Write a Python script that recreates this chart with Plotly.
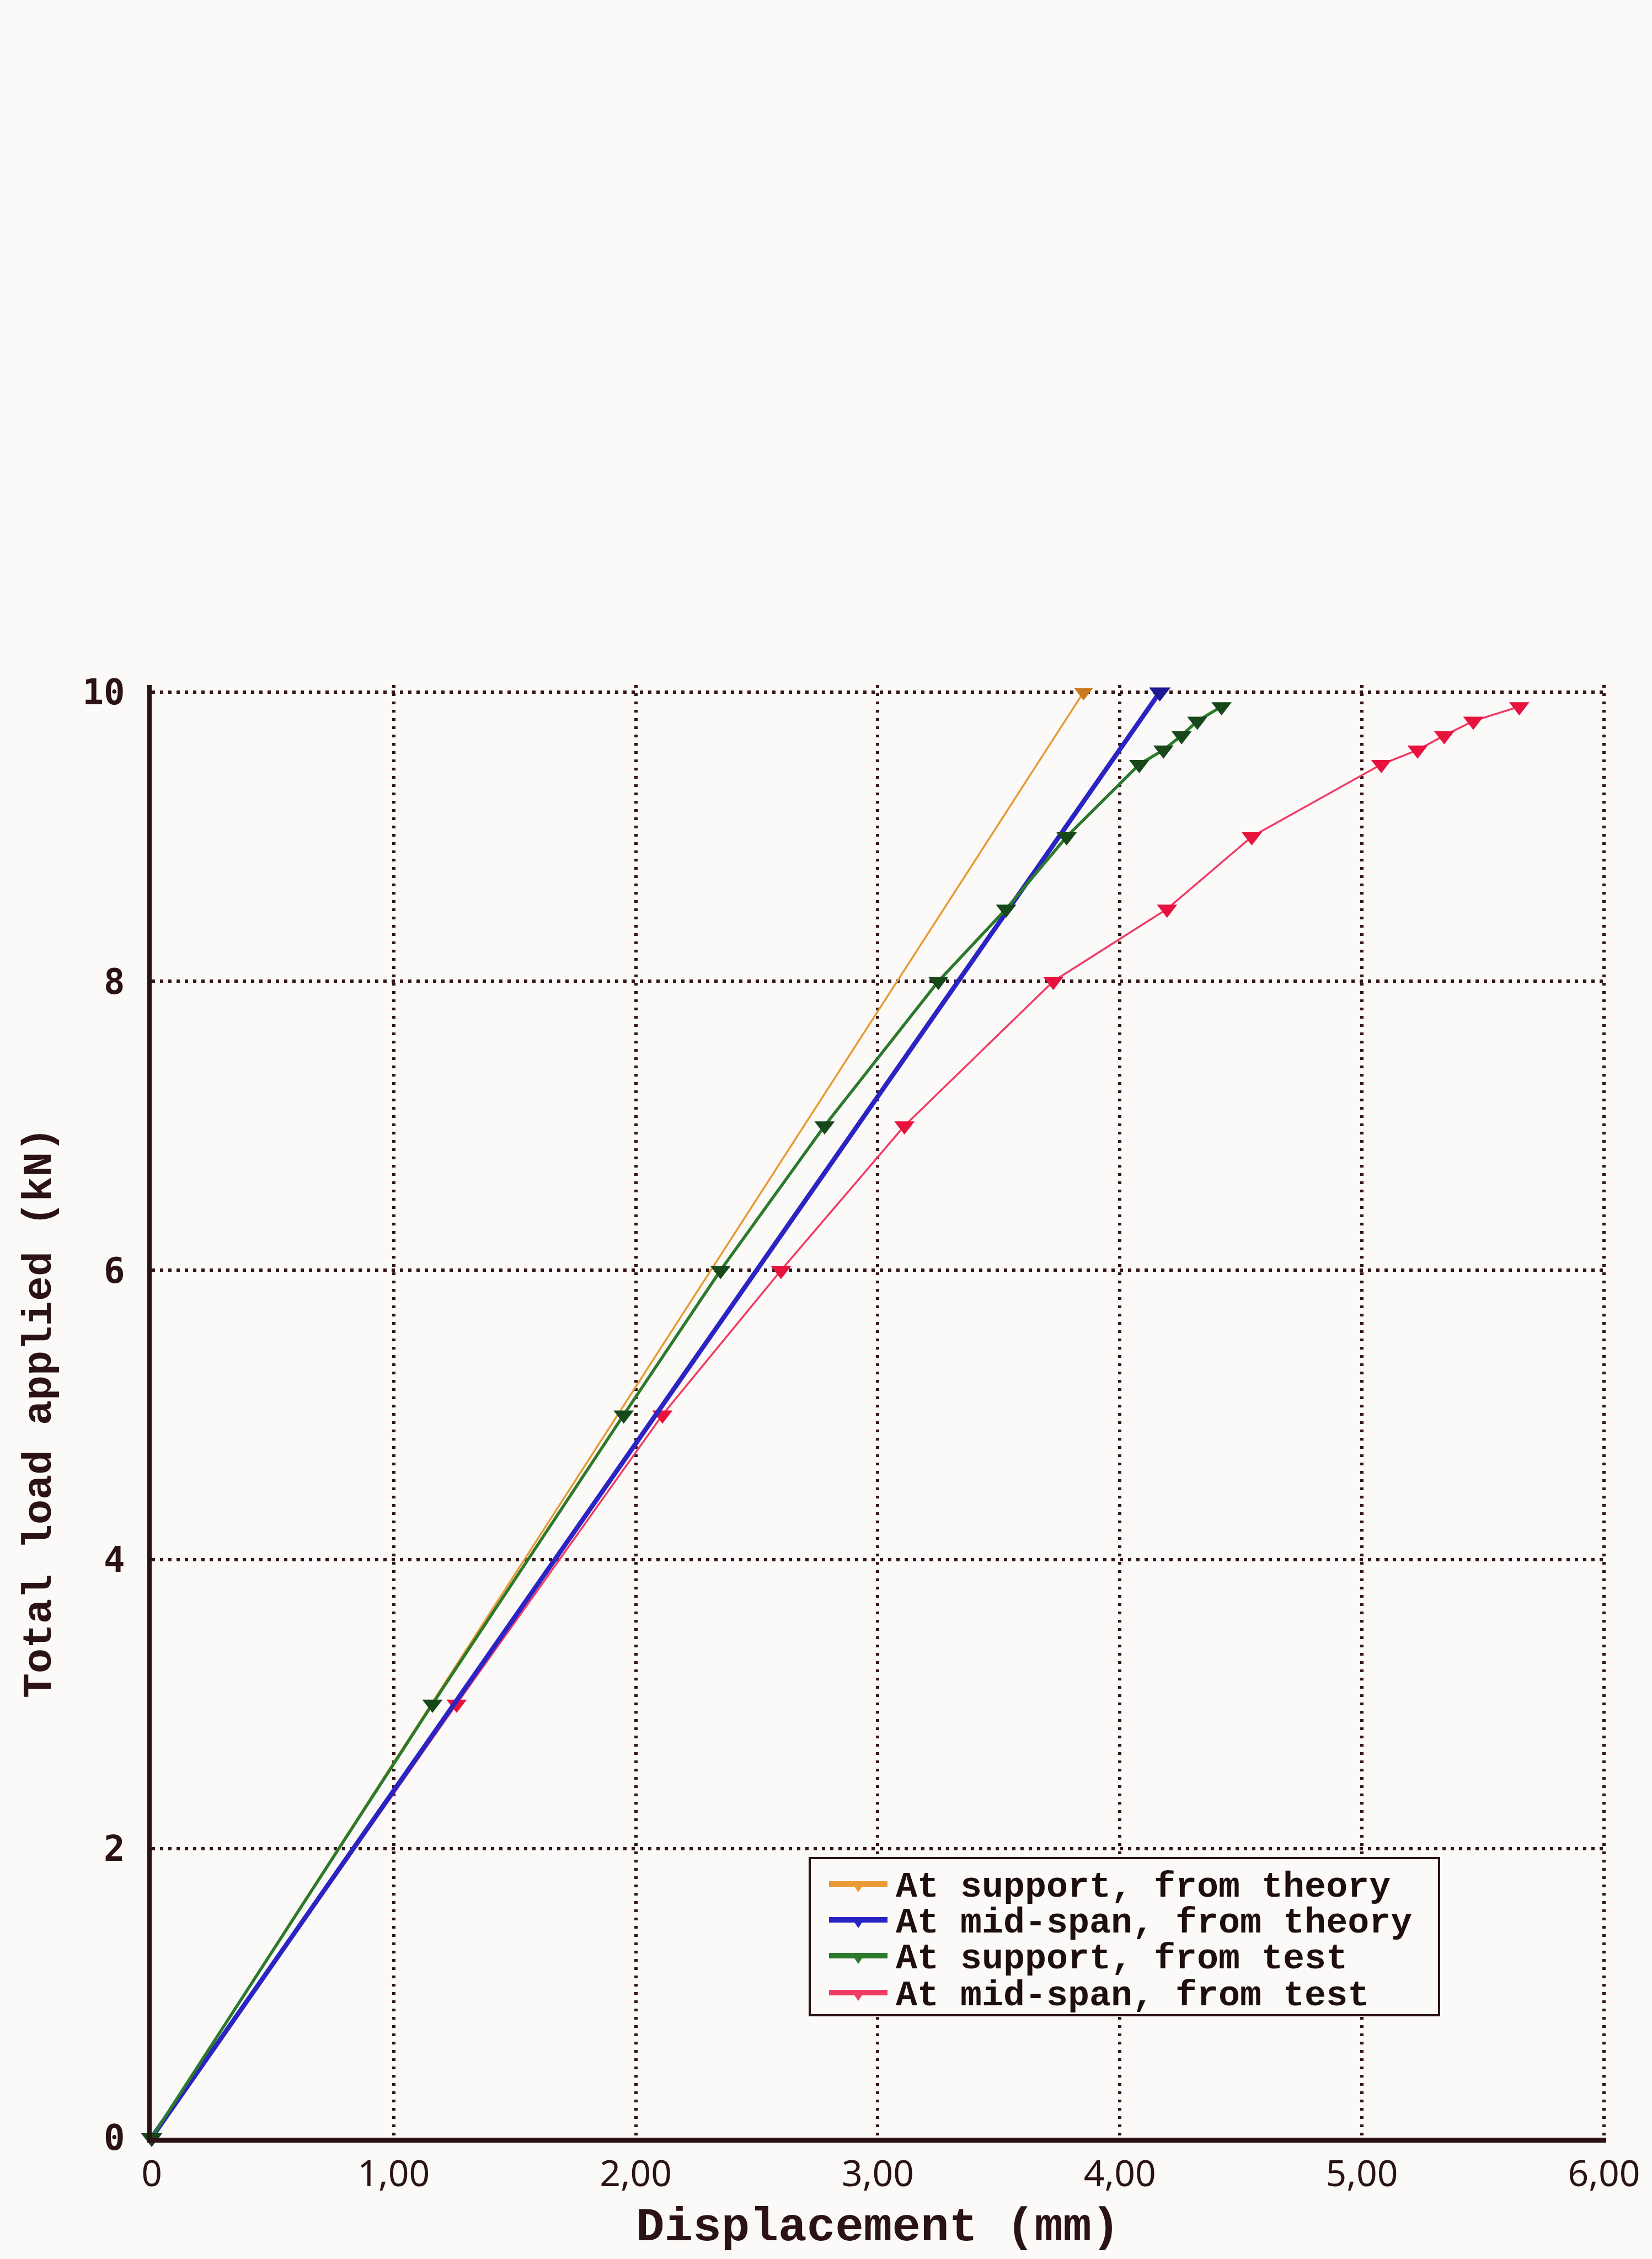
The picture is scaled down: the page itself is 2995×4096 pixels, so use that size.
import plotly.graph_objects as go

W, H = 2995, 4096

# ---------------- data ----------------
support_theory_x = [0, 385]
support_theory_y = [0, 10]

midspan_theory_x = [0, 416.5]
midspan_theory_y = [0, 10]

support_test_x = [0, 116, 195, 235, 278, 325, 353, 378, 408, 418, 425.5, 432, 442]
support_test_y = [0, 3, 5, 6, 7, 8, 8.5, 9, 9.5, 9.6, 9.7, 9.8, 9.9]

midspan_test_x = [0, 126, 211, 260, 311, 372.5, 419.5, 454.5, 508, 523, 534, 546, 565]
midspan_test_y = [0, 3, 5, 6, 7, 8, 8.5, 9, 9.5, 9.6, 9.7, 9.8, 9.9]

series_names = [
    "At support, from theory",
    "At mid-span, from theory",
    "At support, from test",
    "At mid-span, from test",
]

x_tickvals = [0, 100, 200, 300, 400, 500, 600]
x_ticktext = ["0", "1,00", "2,00", "3,00", "4,00", "5,00", "6,00"]
y_tickvals = [0, 2, 4, 6, 8, 10]
y_ticktext = ["0", "2", "4", "6", "8", "10"]

x_title = "Displacement (mm)"
y_title = "Total load applied (kN)"

# ---------------- styling ----------------
INK = "#2a1215"
GRID = "#35171a"
PAPER = "#fcfaf8"

line_colors = ["#e99a35", "#2b24c4", "#2c7a2c", "#f03c64"]
marker_colors = ["#c8781f", "#1d1890", "#16481a", "#e8123e"]
line_widths = [3.5, 8.5, 5.5, 3.5]
marker_sizes = [30, 34, 32, 32]


def fx(px):
    return px / W


def fy(py):
    return 1 - py / H


fig = go.Figure()

series = [
    (support_theory_x, support_theory_y),
    (midspan_theory_x, midspan_theory_y),
    (support_test_x, support_test_y),
    (midspan_test_x, midspan_test_y),
]

# draw order: red, orange, blue, green (green and blue sit on top)
for i in [3, 0, 1, 2]:
    xs, ys = series[i]
    fig.add_trace(
        go.Scatter(
            x=xs,
            y=ys,
            name=series_names[i],
            mode="lines+markers",
            line=dict(color=line_colors[i], width=line_widths[i]),
            marker=dict(symbol="triangle-down", size=marker_sizes[i],
                        color=marker_colors[i], line=dict(width=0)),
            cliponaxis=False,
        )
    )

# ---------------- axes ----------------
fig.update_xaxes(
    domain=[fx(275), fx(2912.3)],
    range=[0, 601],
    automargin=False,
    tickvals=x_tickvals,
    ticktext=x_ticktext,
    ticks="",
    ticklabelstandoff=0,
    tickfont=dict(family="Noto Sans", size=66, color=INK),
    showline=True,
    linecolor=INK,
    linewidth=9,
    showgrid=True,
    gridcolor=GRID,
    gridwidth=5.5,
    griddash="5.5px,9.5px",
    zeroline=False,
)
fig.update_yaxes(
    domain=[fy(3876), fy(1241.9)],
    range=[0, 10.05],
    automargin=False,
    tickvals=y_tickvals,
    ticktext=y_ticktext,
    ticks="",
    ticklabelstandoff=28,
    tickfont=dict(family="DejaVu Sans Mono", size=64, color=INK, weight="bold"),
    showline=True,
    linecolor=INK,
    linewidth=7.5,
    showgrid=True,
    gridcolor=GRID,
    gridwidth=5.5,
    griddash="5.5px,9.5px",
    zeroline=False,
)

# ---------------- axis titles ----------------
annotations = [
    dict(
        text=x_title, x=fx(1591), y=fy(4039), xref="paper", yref="paper",
        xanchor="center", yanchor="middle", showarrow=False,
        font=dict(family="Liberation Mono", size=86, color=INK, weight="bold"),
    ),
    dict(
        text=y_title, x=fx(72), y=fy(2562), xref="paper", yref="paper",
        xanchor="center", yanchor="middle", showarrow=False, textangle=-90,
        font=dict(family="Liberation Mono", size=75, color=INK, weight="bold"),
    ),
]

# ---------------- legend box ----------------
shapes = [
    dict(
        type="rect", xref="paper", yref="paper",
        x0=fx(1468), x1=fx(2609), y0=fy(3654), y1=fy(3369),
        line=dict(color=INK, width=4), fillcolor=PAPER, layer="above",
    )
]

legend_rows = [3416, 3481, 3546, 3613]
sw_x0, sw_x1 = 1503, 1609
for i, name in enumerate(series_names):
    cy = legend_rows[i]
    cx = (sw_x0 + sw_x1) / 2
    shapes.append(dict(
        type="line", xref="paper", yref="paper",
        x0=fx(sw_x0), x1=fx(sw_x1), y0=fy(cy), y1=fy(cy),
        line=dict(color=line_colors[i], width=10), layer="above",
    ))
    tri = "M {:.5f},{:.5f} L {:.5f},{:.5f} L {:.5f},{:.5f} Z".format(
        fx(cx - 10), fy(cy), fx(cx + 10), fy(cy), fx(cx), fy(cy + 15))
    shapes.append(dict(
        type="path", xref="paper", yref="paper", path=tri,
        fillcolor=line_colors[i], line=dict(width=0), layer="above",
    ))
    annotations.append(dict(
        text=name, x=fx(1622), y=fy(cy + 6), xref="paper", yref="paper",
        xanchor="left", yanchor="middle", showarrow=False,
        font=dict(family="Liberation Mono", size=65, color="#1e0e10", weight="bold"),
    ))

fig.update_layout(
    width=W,
    height=H,
    autosize=False,
    margin=dict(l=0, r=0, t=0, b=0),
    paper_bgcolor=PAPER,
    plot_bgcolor=PAPER,
    showlegend=False,
    shapes=shapes,
    annotations=annotations,
)

fig.write_html("out.html")
